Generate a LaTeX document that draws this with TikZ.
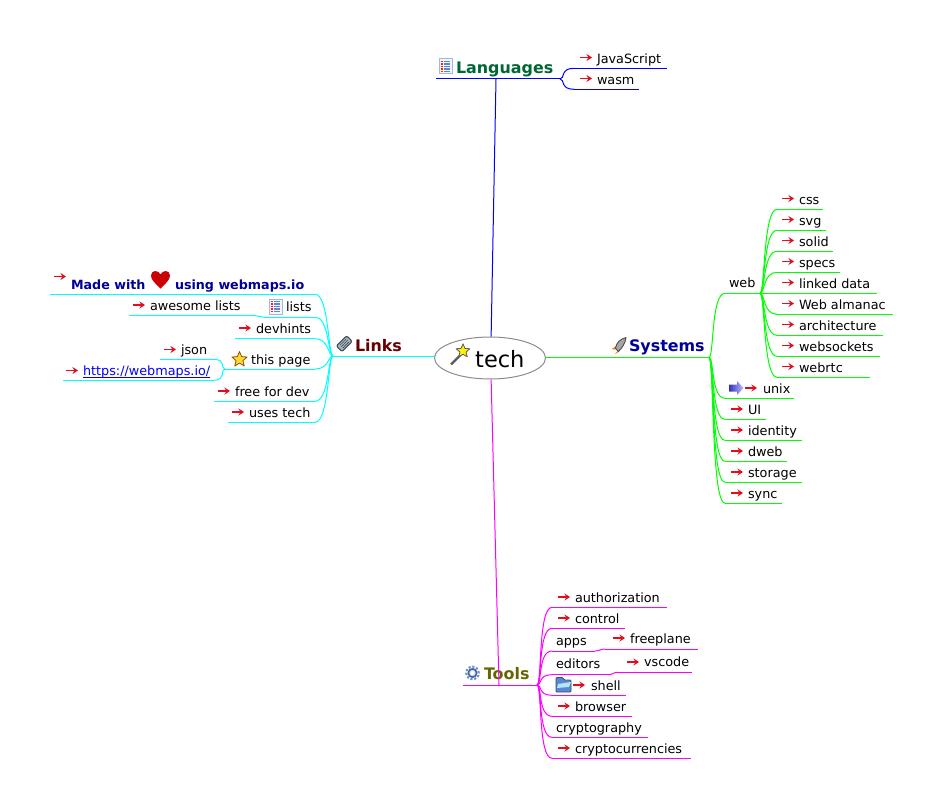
\documentclass[tikz,border=0pt]{standalone}
\usepackage{fontspec}
\setmainfont{DejaVu Sans}
\usetikzlibrary{arrows.meta,shapes.geometric}
\definecolor{arrred}{RGB}{222,16,32}
\definecolor{bcyan}{RGB}{0,255,255}
\definecolor{bgreen}{RGB}{0,255,0}
\definecolor{bmag}{RGB}{255,0,255}
\definecolor{bblue}{RGB}{0,0,255}
\definecolor{navy}{RGB}{0,0,153}
\definecolor{frameb}{RGB}{160,185,220}
\definecolor{lineb}{RGB}{90,135,205}
\definecolor{slate}{RGB}{50,80,95}
\definecolor{gearb}{RGB}{110,145,205}
\definecolor{geard}{RGB}{70,100,160}
\tikzset{
  lbl/.style={anchor=base west,inner sep=0pt,outer sep=0pt,font=\fontsize{12.8}{14}\selectfont,text=black},
  head/.style={anchor=base west,inner sep=0pt,outer sep=0pt,font=\fontsize{15.9}{18}\selectfont\bfseries},
  brc/.style={draw=black},
  wire/.style={brc,line width=1pt},
  redarrow/.style={draw=arrred,line width=1.5pt,-{Stealth[length=5.5pt,width=7pt]}}
}
\newcommand\leaf[7]{%
  \coordinate (#1-l) at (#2,#4);
  \coordinate (#1-r) at (#3,#4);
  \node[lbl] (#1) at (#5,#6) {#7};
  \draw[wire] (#1-l) -- (#1-r);
}
\newcommand\rarr[2]{\draw[redarrow] (#1,#2) -- (#1+12,#2);}
\newcommand\rconn[2]{\draw[wire] (#1) .. controls +(5,0) and +(-14,0) .. (#2-l);}
\newcommand\lconn[2]{\draw[wire] (#1) .. controls +(-5,0) and +(14,0) .. (#2-r);}
\newcommand\listicon[2]{\begin{scope}[shift={(#1,#2)}]
  \draw[draw=frameb,line width=1pt,fill=blue!4] (0,0) rectangle (13,15);
  \foreach \yy in {2.5,5,7.5,10,12.5}{
    \fill[red!75!orange] (2,\yy-0.6) rectangle (4,\yy+0.6);
    \fill[lineb] (5,\yy-0.6) rectangle (11,\yy+0.6);
  }
\end{scope}}
\newcommand\staricon[4]{\begin{scope}[shift={(#1,#2)}]
  \draw[draw=#4,fill=#3,line width=0.8pt,line join=round]
   (-90:8) -- (-54:3.6) -- (-18:8) -- (18:3.6) -- (54:8) -- (90:3.6)
   -- (126:8) -- (162:3.6) -- (198:8) -- (234:3.6) -- cycle;
\end{scope}}
\begin{document}
\begin{tikzpicture}[x=1pt,y=-1pt]
\useasboundingbox (0,0) rectangle (943,808);
\fill[white] (0,0) rectangle (943,808);

% centre
\node[draw=black!45,line width=1pt,ellipse,minimum width=111pt,minimum height=42pt,inner sep=0pt] (tech) at (490,358) {};
\node[anchor=base west,inner sep=0pt,font=\fontsize{22.5}{24}\selectfont] (techlbl) at (475,367) {tech};
\draw[black!65,line width=2.2pt] (451,364.5) -- (462,353.5);
\begin{scope}[shift={(463,351)},scale=0.9]
  \draw[draw=black!65,fill=yellow,line width=0.8pt,line join=round]
   (-90:8) -- (-54:3.6) -- (-18:8) -- (18:3.6) -- (54:8) -- (90:3.6)
   -- (126:8) -- (162:3.6) -- (198:8) -- (234:3.6) -- cycle;
\end{scope}

% Languages
\begin{scope}[brc/.style={draw=bblue}]
\leaf{lang}{436}{560}{79}{456}{73.5}{}
\node[head,text={rgb,255:red,0;green,102;blue,51}] (langlbl) at (456,73.5) {Languages};
\listicon{439}{59}
\coordinate (langtop) at (496,79);
\draw[wire] (langtop) -- (tech.87);
\leaf{js}{574}{667}{68.3}{597}{63.3}{JavaScript}
\rarr{580}{57.5}
\leaf{wasm}{574}{639}{89.3}{597}{84.3}{wasm}
\rarr{580}{78.5}
\rconn{lang-r}{js}
\rconn{lang-r}{wasm}
\end{scope}

% Links
\begin{scope}[brc/.style={draw=bcyan}]
\leaf{links}{333}{434}{356}{355}{351}{}
\node[head,text={rgb,255:red,102;green,0;blue,0}] (linkslbl) at (355,351) {Links};
\draw[draw=slate,fill=black!30,line width=1.1pt,rotate around={-45:(344.5,343.5)},rounded corners=2pt] (340.5,336.5) rectangle (348.5,351);
\draw[draw=slate,line width=0.6pt,rotate around={-45:(344.5,343.5)}] (342.5,339) -- (342.5,348) (344.5,339) -- (344.5,348) (346.5,339) -- (346.5,348);
\draw[wire] (links-r) -- (tech.177);
\leaf{made}{50}{315}{294.3}{71}{289.3}{\fontsize{12.7}{14}\selectfont\bfseries\color{navy}Made with}
\node[lbl,font=\fontsize{12.7}{14}\selectfont\bfseries,text=navy] (madeb) at (175,289.3) {using webmaps.io};
\rarr{54}{276.5}
\fill[red!80!black] (160.5,288.5) .. controls (155,283) and (151,280) .. (151,275.5) .. controls (151,270) and (158.5,269.5) .. (160.5,274.5) .. controls (162.5,269.5) and (170,270) .. (170,275.5) .. controls (170,280) and (166,283) .. (160.5,288.5) -- cycle;
\leaf{lists}{263}{315}{317}{286}{311.7}{lists}
\listicon{269}{299}
\leaf{awesome}{129}{253}{315.3}{150}{310.3}{awesome lists}
\rarr{133}{305}
\draw[wire] (lists-l) .. controls +(-5,0) and +(5,0) .. (awesome-r);
\leaf{devhints}{235}{315}{338.7}{256}{333.5}{devhints}
\rarr{239}{328}
\leaf{page}{225}{315}{369}{251}{364}{this page}
\staricon{239.5}{359.5}{yellow!70!orange!80}{black!40!orange}
\leaf{json}{160}{213}{359.3}{181}{354.3}{json}
\rarr{164}{349.5}
\leaf{wm}{63}{213}{380.3}{83}{375.3}{\color{bblue}https://webmaps.io/}
\draw[bblue,line width=0.9pt] ([yshift=-1.8pt]wm.base west) -- ([yshift=-1.8pt]wm.base east);
\rarr{66}{370.5}
\lconn{page-l}{json}
\lconn{page-l}{wm}
\leaf{free}{214}{315}{401.3}{235}{396.3}{free for dev}
\rarr{218}{391}
\leaf{uses}{228}{315}{422.3}{249}{417.3}{uses tech}
\rarr{232}{412}
\lconn{links-l}{made}
\lconn{links-l}{lists}
\lconn{links-l}{devhints}
\lconn{links-l}{page}
\lconn{links-l}{free}
\lconn{links-l}{uses}
\end{scope}

% Systems
\begin{scope}[brc/.style={draw=bgreen}]
\leaf{sys}{546}{709}{357.3}{629}{351.7}{}
\node[head,text=navy] (syslbl) at (629,351.7) {Systems};
\fill[orange] (611.5,349) -- (616,346) -- (615,349.5) -- cycle;
\fill[orange] (615,354) -- (619,349.5) -- (618,352.5) -- cycle;
\draw[black!70,fill=black!35,line width=0.9pt,line join=round] (615.5,348.5) .. controls (616,343) and (620,339) .. (626,337.5) .. controls (625.5,343) and (622,348) .. (618.5,351.5) -- cycle;
\leaf{web}{725}{760}{293.3}{729}{287.7}{web}
\rconn{sys-r}{web}
\leaf{css}{777}{823}{209.3}{799}{204.3}{css}
\rarr{782}{198.5}
\leaf{svg}{777}{826}{230.3}{799}{225.3}{svg}
\rarr{782}{219.5}
\leaf{solid}{777}{833}{251.3}{799}{246.3}{solid}
\rarr{782}{240.5}
\leaf{specs}{777}{840}{272.3}{799}{267.3}{specs}
\rarr{782}{261.5}
\leaf{linked}{777}{877}{293.3}{799}{288.3}{linked data}
\rarr{782}{282.5}
\leaf{alm}{777}{893}{314.3}{799}{309.3}{Web almanac}
\rarr{782}{303.5}
\leaf{arch}{777}{883}{335.3}{799}{330.3}{architecture}
\rarr{782}{324.5}
\leaf{ws}{777}{880}{356.3}{799}{351.3}{websockets}
\rarr{782}{345.5}
\leaf{rtc}{777}{870}{377.3}{799}{372.3}{webrtc}
\rarr{782}{366.5}
\foreach \c in {css,svg,solid,specs,linked,alm,arch,ws,rtc}{\rconn{web-r}{\c}}
\leaf{unix}{725}{794}{398.3}{763}{393.3}{unix}
\shade[left color=blue!65!black!80,right color=blue!25] (729,384.5) -- (737,384.5) -- (737,381) -- (743.5,388) -- (737,395) -- (737,391.5) -- (729,391.5) -- cycle;
\rarr{745}{388}
\leaf{ui}{725}{766}{419.3}{748}{414.3}{UI}
\rarr{731}{409}
\leaf{id}{725}{802}{440.3}{748}{435.3}{identity}
\rarr{731}{430}
\leaf{dweb}{725}{787}{461.3}{748}{456.3}{dweb}
\rarr{731}{451}
\leaf{stor}{725}{802}{482.3}{748}{477.3}{storage}
\rarr{731}{472}
\leaf{sync}{725}{782}{503.3}{748}{498.3}{sync}
\rarr{731}{493}
\foreach \c in {unix,ui,id,dweb,stor,sync}{\rconn{sys-r}{\c}}
\draw[wire] (tech.1) -- (sys-l);
\end{scope}

% Tools
\begin{scope}[brc/.style={draw=bmag}]
\leaf{tools}{463}{537}{685}{484}{679.7}{}
\node[head,text={rgb,255:red,102;green,102;blue,0}] (toolslbl) at (484,679.7) {Tools};
\draw[gearb,line width=2pt,dash pattern=on 2.2pt off 1.7pt] (472.5,673) circle (6.3pt);
\draw[geard,fill=gearb!40,line width=1.6pt] (472.5,673) circle (4.2pt);
\fill[white] (472.5,673) circle (2.2pt);
\coordinate (toolstop) at (499,685);
\draw[wire] (tech.-87) -- (toolstop);
\leaf{auth}{552}{667}{607.3}{575}{602.3}{authorization}
\rarr{558}{597}
\leaf{ctrl}{552}{625}{628.3}{575}{623.3}{control}
\rarr{558}{618}
\leaf{apps}{552}{595}{651}{556}{645.7}{apps}
\leaf{fp}{605}{698}{649}{630}{643.5}{freeplane}
\rarr{613}{638}
\draw[wire] (apps-r) .. controls +(5,0) and +(-5,0) .. (fp-l);
\leaf{ed}{552}{608}{674.7}{556}{668.5}{editors}
\leaf{vs}{618}{692}{672.3}{644}{666.7}{vscode}
\rarr{627}{662}
\draw[wire] (ed-r) .. controls +(5,0) and +(-5,0) .. (vs-l);
\leaf{shell}{552}{626}{695.3}{591}{690.3}{shell}
\draw[draw=lineb!60!black,fill=lineb,line width=0.8pt,rounded corners=1pt] (556,680) -- (556,677.5) -- (563,677.5) -- (564,680) -- (571,680) -- (571,692) -- (556,692) -- cycle;
\fill[white!70!cyan] (558,684) -- (571,682) -- (569,687) -- (557,688) -- cycle;
\rarr{573}{685}
\leaf{brow}{552}{632}{716.3}{575}{711.3}{browser}
\rarr{558}{706}
\leaf{cg}{552}{648}{737.3}{556}{732.3}{cryptography}
\leaf{cc}{552}{691}{758.3}{575}{753.3}{cryptocurrencies}
\rarr{558}{748}
\foreach \c in {auth,ctrl,apps,ed,shell,brow,cg,cc}{\rconn{tools-r}{\c}}
\end{scope}
\end{tikzpicture}
\end{document}
